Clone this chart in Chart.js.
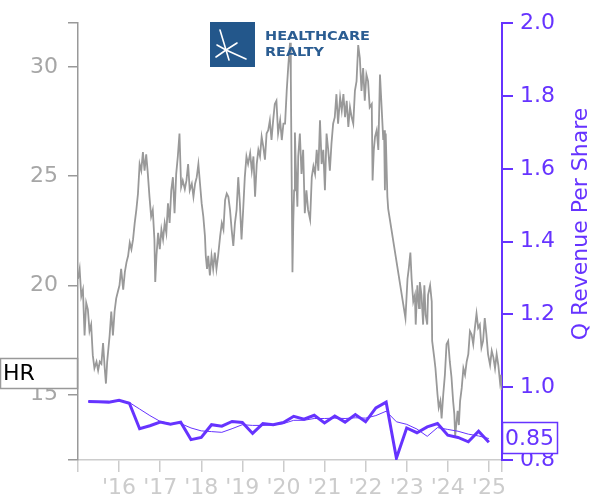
<!DOCTYPE html>
<html>
<head>
    <title>HR price vs quarterly revenue per share</title>
    <script src="https://cdn.jsdelivr.net/npm/chart.js@4"></script>
    <style>
        body { margin: 0; background: #fff; }
        #chart { display: block; }
    </style>
</head>
<body>
    <canvas id="chart" width="600" height="500"></canvas>
    <script>
        // Share price (left axis), dates as decimal years
        const priceDates = [
            2015.00, 2015.04, 2015.08, 2015.12, 2015.16, 2015.20, 2015.24, 2015.28, 2015.32, 2015.36,
            2015.40, 2015.45, 2015.49, 2015.53, 2015.57, 2015.61, 2015.65, 2015.68, 2015.71, 2015.77,
            2015.81, 2015.85, 2015.89, 2015.93, 2015.97, 2016.01, 2016.05, 2016.10, 2016.14, 2016.18,
            2016.22, 2016.26, 2016.30, 2016.34, 2016.38, 2016.42, 2016.46, 2016.50, 2016.54, 2016.58,
            2016.62, 2016.66, 2016.70, 2016.74, 2016.78, 2016.82, 2016.86, 2016.88, 2016.91, 2016.95,
            2016.99, 2017.03, 2017.07, 2017.11, 2017.15, 2017.19, 2017.23, 2017.27, 2017.31, 2017.35,
            2017.39, 2017.43, 2017.47, 2017.51, 2017.55, 2017.60, 2017.64, 2017.68, 2017.72, 2017.77,
            2017.81, 2017.85, 2017.89, 2017.93, 2017.97, 2018.01, 2018.05, 2018.09, 2018.11, 2018.14,
            2018.17, 2018.21, 2018.25, 2018.29, 2018.33, 2018.37, 2018.41, 2018.46, 2018.50, 2018.54,
            2018.58, 2018.62, 2018.66, 2018.70, 2018.74, 2018.78, 2018.82, 2018.86, 2018.90, 2018.94,
            2018.98, 2019.02, 2019.06, 2019.10, 2019.14, 2019.19, 2019.23, 2019.27, 2019.31, 2019.35,
            2019.39, 2019.43, 2019.47, 2019.51, 2019.55, 2019.59, 2019.63, 2019.67, 2019.71, 2019.75,
            2019.79, 2019.83, 2019.87, 2019.92, 2019.96, 2020.00, 2020.04, 2020.08, 2020.12, 2020.16,
            2020.18, 2020.20, 2020.22, 2020.24, 2020.26, 2020.28, 2020.30, 2020.34, 2020.36, 2020.40,
            2020.44, 2020.48, 2020.52, 2020.56, 2020.60, 2020.65, 2020.69, 2020.73, 2020.77, 2020.81,
            2020.85, 2020.89, 2020.93, 2020.97, 2021.01, 2021.05, 2021.09, 2021.13, 2021.17, 2021.21,
            2021.25, 2021.29, 2021.33, 2021.38, 2021.42, 2021.46, 2021.50, 2021.54, 2021.58, 2021.62,
            2021.66, 2021.70, 2021.74, 2021.78, 2021.82, 2021.86, 2021.90, 2021.94, 2021.98, 2022.02,
            2022.06, 2022.10, 2022.15, 2022.17, 2022.20, 2022.23, 2022.27, 2022.31, 2022.35, 2022.39,
            2022.43, 2022.45, 2022.47, 2022.49, 2022.53, 2022.55, 2022.97, 2023.02, 2023.05, 2023.09,
            2023.12, 2023.16, 2023.20, 2023.22, 2023.26, 2023.30, 2023.32, 2023.36, 2023.40, 2023.43,
            2023.46, 2023.50, 2023.52, 2023.57, 2023.61, 2023.62, 2023.67, 2023.70, 2023.75, 2023.78,
            2023.82, 2023.85, 2023.89, 2023.93, 2023.97, 2024.01, 2024.05, 2024.09, 2024.13, 2024.16,
            2024.18, 2024.24, 2024.27, 2024.30, 2024.34, 2024.38, 2024.42, 2024.46, 2024.50, 2024.54,
            2024.58, 2024.62, 2024.66, 2024.70, 2024.74, 2024.78, 2024.82, 2024.86, 2024.90, 2024.94,
            2024.98, 2025.03, 2025.07, 2025.11, 2025.15, 2025.19, 2025.23, 2025.27, 2025.29, 2025.31
        ];
        const priceValues = [
            20.3, 20.75, 19.5, 19.8, 17.7, 19.2, 18.9, 17.9, 18.2, 16.8,
            16.2, 16.5, 16.1, 16.5, 16.4, 17.35, 16.2, 15.5, 16.5, 17.7,
            18.8, 17.7, 18.8, 19.4, 19.7, 20.0, 20.75, 19.8, 20.6, 21.05,
            21.35, 21.95, 21.65, 22.1, 22.85, 23.45, 24.2, 25.55, 25.25, 26.1,
            25.25, 26.0, 25.1, 24.05, 23.15, 23.45, 22.1, 20.15, 21.35, 22.4,
            21.65, 22.55, 22.1, 22.85, 22.4, 23.75, 22.85, 24.35, 24.95, 23.3,
            25.1, 25.9, 26.95, 24.5, 24.8, 24.4, 24.8, 25.55, 24.35, 24.65,
            24.05, 24.65, 24.95, 25.55, 24.65, 23.75, 23.15, 22.25, 21.35, 20.75,
            21.35, 20.45, 21.35, 20.75, 21.5, 20.75, 21.35, 22.25, 22.85, 22.55,
            23.9, 24.2, 24.05, 23.45, 22.55, 21.8, 22.85, 23.45, 24.95, 23.75,
            22.1, 23.45, 24.95, 25.9, 25.55, 26.05, 25.25, 25.9, 24.05, 25.55,
            26.2, 25.9, 26.8, 26.35, 25.75, 26.95, 27.1, 27.55, 26.65, 27.55,
            28.3, 28.45, 26.95, 27.55, 26.65, 27.4, 27.4, 28.9, 30.1, 31.1,
            29.5, 25.0, 20.6, 22.9, 24.35, 27.0, 25.55, 23.6, 25.9, 26.95,
            25.1, 26.2, 23.3, 24.35, 23.45, 23.0, 24.95, 25.45, 25.1, 26.2,
            25.25, 27.55, 25.55, 26.2, 24.35, 26.95, 26.2, 25.25, 26.5, 27.4,
            27.7, 28.75, 27.4, 28.6, 28.0, 28.75, 27.7, 28.45, 27.25, 28.15,
            27.7, 27.4, 28.9, 29.35, 31.0, 30.4, 28.9, 29.95, 28.45, 29.65,
            29.35, 28.15, 28.3, 24.8, 26.2, 26.8, 27.1, 26.2, 29.65, 28.15,
            26.65, 27.1, 24.35, 26.95, 24.05, 23.5, 18.5, 20.3, 20.75, 21.5,
            20.3, 19.25, 19.55, 18.2, 20.0, 18.95, 20.15, 19.55, 18.2, 20.0,
            18.65, 18.2, 19.55, 20.0, 19.25, 17.45, 16.7, 16.2, 15.0, 14.4,
            14.7, 13.9, 15.0, 15.9, 17.3, 17.45, 16.5, 15.8, 14.7, 14.1,
            13.1, 14.25, 13.6, 14.7, 15.3, 16.2, 15.9, 16.5, 16.85, 17.9,
            17.75, 17.3, 18.05, 18.7, 18.05, 18.2, 17.15, 17.45, 18.5, 17.75,
            16.85, 16.35, 17.0, 16.7, 16.2, 16.85, 16.35, 15.6, 15.9, 15.2
        ];

        // Quarterly revenue per share (right axis), quarter ends Q1'15 .. Q4'24
        const revDates = [
            2015.25, 2015.5, 2015.75, 2016.0, 2016.25, 2016.5, 2016.75, 2017.0,
            2017.25, 2017.5, 2017.75, 2018.0, 2018.25, 2018.5, 2018.75, 2019.0,
            2019.25, 2019.5, 2019.75, 2020.0, 2020.25, 2020.5, 2020.75, 2021.0,
            2021.25, 2021.5, 2021.75, 2022.0, 2022.25, 2022.5, 2022.75, 2023.0,
            2023.25, 2023.5, 2023.75, 2024.0, 2024.25, 2024.5, 2024.75, 2025.0
        ];
        const revValues = [
            0.961, 0.960, 0.959, 0.964, 0.956, 0.886, 0.894, 0.904,
            0.898, 0.904, 0.856, 0.862, 0.897, 0.893, 0.906, 0.903,
            0.873, 0.900, 0.897, 0.903, 0.920, 0.912, 0.923, 0.902,
            0.921, 0.904, 0.925, 0.905, 0.943, 0.959, 0.805, 0.888,
            0.875, 0.891, 0.900, 0.868, 0.862, 0.850, 0.879, 0.849
        ];
        const revSmoothValues = [
            0.961, 0.960, 0.959, 0.962, 0.958, 0.940, 0.922, 0.906,
            0.900, 0.900, 0.888, 0.880, 0.878, 0.876, 0.886, 0.897,
            0.895, 0.895, 0.896, 0.900, 0.909, 0.909, 0.914, 0.914,
            0.915, 0.914, 0.916, 0.915, 0.922, 0.934, 0.905, 0.898,
            0.885, 0.865, 0.889, 0.884, 0.879, 0.871, 0.866, 0.859
        ];

        // Axis ticks
        const yearTicks = [2015.0, 2016, 2017, 2018, 2019, 2020, 2021, 2022, 2023, 2024, 2025, 2025.32];
        const yearLabels = ['', "'16", "'17", "'18", "'19", "'20", "'21", "'22", "'23", "'24", "'25", ''];
        const priceTicks = [12, 15, 20, 25, 30, 32];
        const priceTickLabels = ['', '15', '20', '25', '30', ''];
        const revTicks = [0.8, 1.0, 1.2, 1.4, 1.6, 1.8, 2.0];

        const PURPLE = '#6633ff';
        Chart.defaults.font.family = 'DejaVu Sans';

        const toPoints = (xs, ys) => xs.map((x, i) => ({ x: x, y: ys[i] }));

        const overlays = {
            id: 'overlays',
            afterDraw(chart) {
                const ctx = chart.ctx;
                ctx.save();

                // logo
                ctx.fillStyle = '#23578b';
                ctx.fillRect(210, 22, 45, 45);
                ctx.strokeStyle = '#fff';
                ctx.lineWidth = 1.6;
                ctx.lineCap = 'round';
                const cx = 226, cy = 50;
                [[220, 30], [229, 60], [216, 57], [246, 59], [217, 45], [237, 43]].forEach(([ex, ey]) => {
                    ctx.beginPath();
                    ctx.moveTo(cx, cy);
                    ctx.lineTo(ex, ey);
                    ctx.stroke();
                });
                ctx.fillStyle = '#2b5d92';
                ctx.textBaseline = 'alphabetic';
                ctx.textAlign = 'left';
                ctx.font = 'bold 12px "DejaVu Sans"';
                const drawWide = (txt, x, y, w) => {
                    const m = ctx.measureText(txt).width;
                    ctx.save();
                    ctx.translate(x, y);
                    ctx.scale(w / m, 1);
                    ctx.fillText(txt, 0, 0);
                    ctx.restore();
                };
                drawWide('HEALTHCARE', 265, 40, 105);
                drawWide('REALTY', 265, 56, 59);

                // right axis title
                ctx.save();
                ctx.translate(581, 224);
                ctx.rotate(-Math.PI / 2);
                ctx.fillStyle = PURPLE;
                ctx.font = '22px "DejaVu Sans"';
                ctx.textAlign = 'center';
                ctx.textBaseline = 'middle';
                ctx.fillText('Q Revenue Per Share', 0, 0);
                ctx.restore();

                // ticker box
                ctx.fillStyle = '#fff';
                ctx.fillRect(0.5, 358.5, 77, 30);
                ctx.strokeStyle = '#999';
                ctx.lineWidth = 1.5;
                ctx.strokeRect(0.5, 358.5, 77, 30);
                ctx.fillStyle = '#000';
                ctx.font = '22px "DejaVu Sans"';
                ctx.textBaseline = 'middle';
                ctx.fillText('HR', 3, 374);

                // last value box
                const last = revValues[revValues.length - 1].toFixed(2);
                ctx.fillStyle = '#fff';
                ctx.fillRect(502.5, 422.5, 55, 31);
                ctx.strokeStyle = PURPLE;
                ctx.strokeRect(502.5, 422.5, 55, 31);
                ctx.fillStyle = PURPLE;
                ctx.fillText(last, 505, 439);

                ctx.restore();
            }
        };

        new Chart(document.getElementById('chart'), {
            type: 'line',
            data: {
                datasets: [
                    {
                        data: toPoints(revDates, revValues),
                        yAxisID: 'y1',
                        borderColor: PURPLE,
                        borderWidth: 3,
                        pointRadius: 0,
                        tension: 0
                    },
                    {
                        data: toPoints(revDates, revSmoothValues),
                        yAxisID: 'y1',
                        borderColor: PURPLE,
                        borderWidth: 1,
                        pointRadius: 0,
                        tension: 0
                    },
                    {
                        data: toPoints(priceDates, priceValues),
                        yAxisID: 'y',
                        borderColor: '#999',
                        borderWidth: 1.8,
                        pointRadius: 0,
                        tension: 0
                    }
                ]
            },
            options: {
                responsive: false,
                animation: false,
                layout: { padding: { top: 20, left: 0, right: 0, bottom: 0 } },
                plugins: { legend: { display: false }, tooltip: { enabled: false } },
                scales: {
                    x: {
                        type: 'linear',
                        min: 2015.0,
                        max: 2025.32,
                        afterBuildTicks: s => { s.ticks = yearTicks.map(v => ({ value: v })); },
                        afterFit: s => { s.height = 40; },
                        ticks: {
                            autoSkip: false,
                            maxRotation: 0,
                            padding: 3,
                            color: '#ccc',
                            font: { size: 22 },
                            callback: (v, i) => yearLabels[i]
                        },
                        grid: { drawOnChartArea: false, tickLength: 12, color: '#ccc', lineWidth: 1.5 },
                        border: { color: '#ccc', width: 1.5 }
                    },
                    y: {
                        position: 'left',
                        min: 12,
                        max: 32,
                        afterBuildTicks: s => { s.ticks = priceTicks.map(v => ({ value: v })); },
                        afterFit: s => { s.width = 78; },
                        ticks: {
                            padding: 10,
                            color: '#a6a6a6',
                            font: { size: 22 },
                            callback: (v, i) => priceTickLabels[i]
                        },
                        grid: { drawOnChartArea: false, tickLength: 10, color: '#999', lineWidth: 1.5 },
                        border: { color: '#999', width: 1.5 }
                    },
                    y1: {
                        position: 'right',
                        min: 0.8,
                        max: 2.0,
                        afterBuildTicks: s => { s.ticks = revTicks.map(v => ({ value: v })); },
                        afterFit: s => { s.width = 98; },
                        ticks: {
                            padding: 7,
                            color: PURPLE,
                            font: { size: 22 },
                            callback: v => v.toFixed(1)
                        },
                        grid: { drawOnChartArea: false, tickLength: 11, color: PURPLE, lineWidth: 2 },
                        border: { color: PURPLE, width: 2 }
                    }
                }
            },
            plugins: [overlays]
        });
    </script>
</body>
</html>
